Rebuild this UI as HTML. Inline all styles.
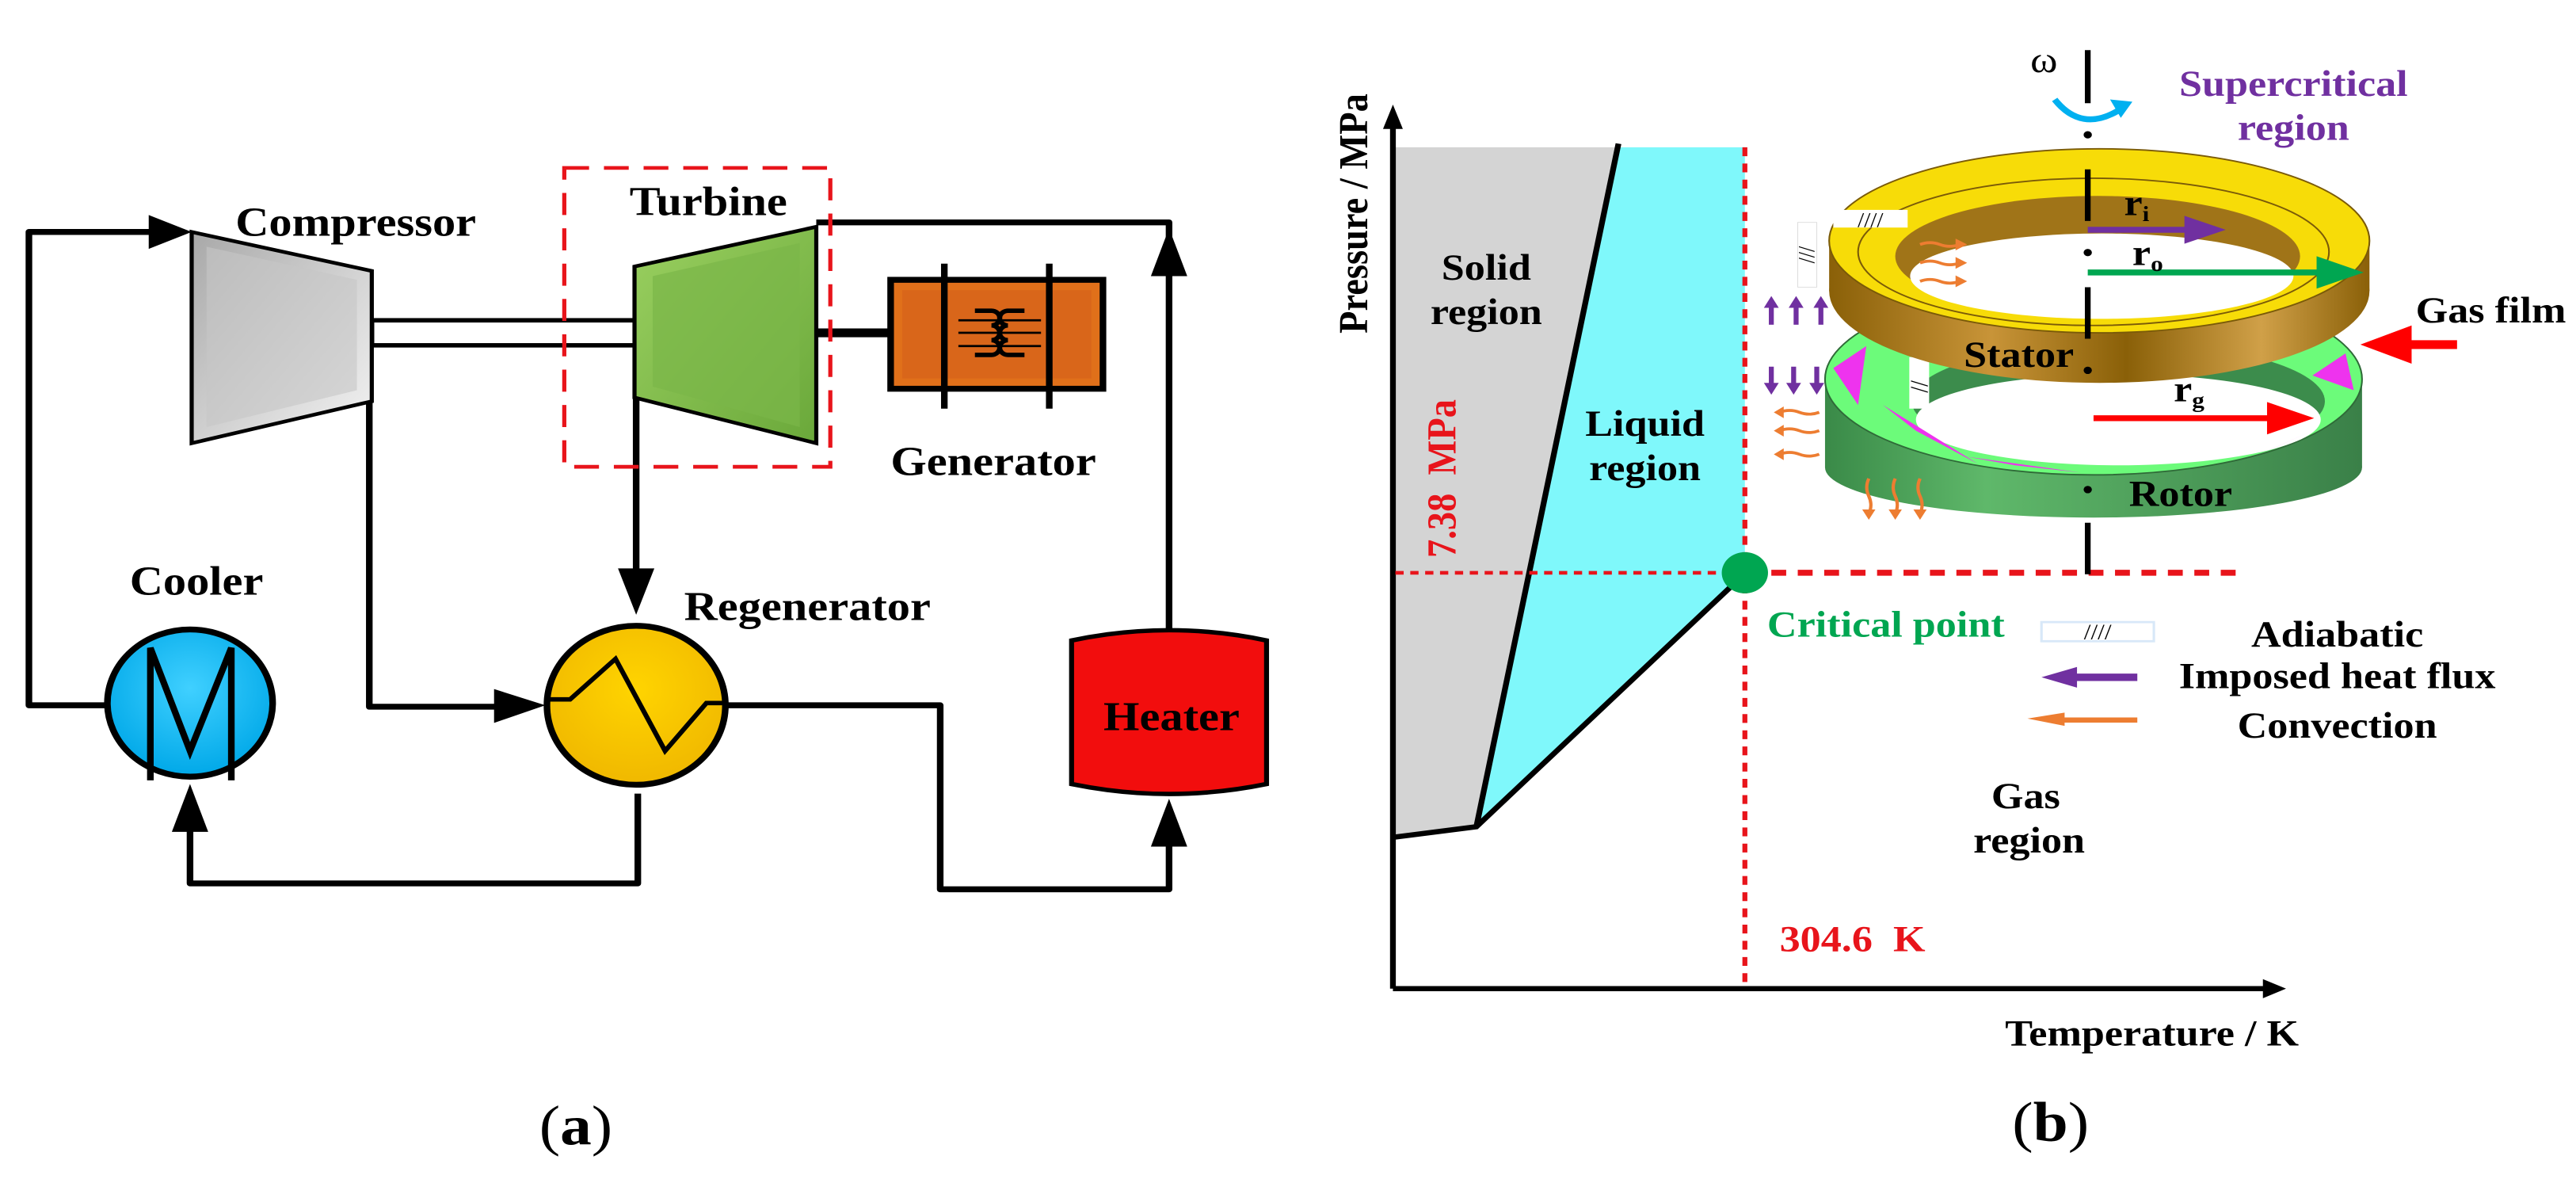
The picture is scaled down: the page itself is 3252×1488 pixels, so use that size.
<!DOCTYPE html>
<html><head><meta charset="utf-8"><style>
html,body{margin:0;padding:0;background:#fff}
svg{display:block}
text{font-family:"Liberation Serif","DejaVu Serif",serif;font-weight:bold}
</style></head><body>
<svg width="3252" height="1488" viewBox="0 0 3252 1488" xmlns="http://www.w3.org/2000/svg" font-family="Liberation Serif, DejaVu Serif, serif">
<defs>
<linearGradient id="gray" x1="0" y1="0" x2="1" y2="1"><stop offset="0" stop-color="#a8a8a8"/><stop offset="0.5" stop-color="#cfcfcf"/><stop offset="1" stop-color="#f4f4f4"/></linearGradient>
<linearGradient id="green" x1="0" y1="0" x2="1" y2="1"><stop offset="0" stop-color="#9ad060"/><stop offset="1" stop-color="#6aa83a"/></linearGradient>
<radialGradient id="blue" cx="0.5" cy="0.4" r="0.6"><stop offset="0" stop-color="#40d0ff"/><stop offset="1" stop-color="#00a8e8"/></radialGradient>
<radialGradient id="yel" cx="0.5" cy="0.4" r="0.6"><stop offset="0" stop-color="#ffd400"/><stop offset="1" stop-color="#f0b800"/></radialGradient>
<linearGradient id="brown" x1="0" y1="0" x2="1" y2="0"><stop offset="0" stop-color="#8a6008"/><stop offset="0.3" stop-color="#c89438"/><stop offset="0.55" stop-color="#8a6008"/><stop offset="0.8" stop-color="#d0a048"/><stop offset="1" stop-color="#8a6008"/></linearGradient>
<linearGradient id="dgreen" x1="0" y1="0" x2="1" y2="0"><stop offset="0" stop-color="#3a8a48"/><stop offset="0.3" stop-color="#5fb86a"/><stop offset="1" stop-color="#3a8048"/></linearGradient>
</defs>

<!-- LEFT PANEL -->
<g transform="translate(0,28) scale(1.043,0.929)">
<g stroke="#000" stroke-width="8" fill="none" stroke-linejoin="round">
<polyline points="130,928 35,928 35,285 185,285"/>
<polyline points="447,515 447,930 600,930"/>
<polyline points="770,510 770,745"/>
<polyline points="988,272 1415,272 1415,825"/>
<polyline points="880,928 1138,928 1138,1178 1415,1178 1415,1118"/>
<polyline points="772,1048 772,1170 230,1170 230,1098"/>
</g>
<g fill="#000">
<polygon points="180,262 232,285 180,308"/>
<polygon points="598,906 660,928 598,952"/>
<polygon points="748,742 792,742 770,805"/>
<polygon points="1393,345 1437,345 1415,280"/>
<polygon points="1393,1120 1437,1120 1415,1055"/>
<polygon points="208,1100 252,1100 230,1035"/>
</g>
<rect x="450" y="405" width="320" height="34" fill="#fff" stroke="#000" stroke-width="6"/>
<line x1="990" y1="422" x2="1080" y2="422" stroke="#000" stroke-width="12"/>
<polygon points="232,285 450,338 450,515 232,572" fill="url(#gray)" stroke="#000" stroke-width="5"/>
<polygon points="250,305 432,350 432,500 250,550" fill="#c6c6c6" opacity="0.6"/>
<polygon points="768,332 988,278 988,572 768,510" fill="url(#green)" stroke="#000" stroke-width="5"/>
<polygon points="790,345 968,300 968,550 790,495" fill="#7ab648" opacity="0.7"/>
<rect x="683" y="198" width="322" height="406" fill="none" stroke="#e8141b" stroke-width="5" stroke-dasharray="30,18"/>
<rect x="1078" y="350" width="257" height="148" fill="#e0701a" stroke="#000" stroke-width="8"/>
<rect x="1092" y="364" width="229" height="120" fill="#d9661a"/>
<line x1="1143" y1="328" x2="1143" y2="525" stroke="#000" stroke-width="8"/>
<line x1="1270" y1="328" x2="1270" y2="525" stroke="#000" stroke-width="8"/>
<g stroke="#000" stroke-width="6" fill="none">
<path d="M1180,392 h20 a10,10 0 0 1 0,20 a10,10 0 0 1 0,20 a10,10 0 0 1 0,20 h-20"/>
<path d="M1240,392 h-20 a10,10 0 0 0 0,20 a10,10 0 0 0 0,20 a10,10 0 0 0 0,20 h20"/>
<path d="M1160,405 h50 M1160,422 h50 M1160,440 h50 M1210,405 h50 M1210,422 h50 M1210,440 h50" stroke-width="3"/>
</g>
<path d="M1297,840 Q1415,812 1533,840 L1533,1035 Q1415,1062 1297,1035 Z" fill="#f20d0d" stroke="#000" stroke-width="6"/>
<circle cx="770" cy="928" r="108" fill="url(#yel)" stroke="#000" stroke-width="8"/>
<polyline points="662,920 690,920 745,865 805,990 855,925 880,925" fill="none" stroke="#000" stroke-width="6"/>
<circle cx="230" cy="925" r="100" fill="url(#blue)" stroke="#000" stroke-width="8"/>
<polyline points="182,1030 182,850 230,990 280,850 280,1030" fill="none" stroke="#000" stroke-width="8"/>
<g font-size="56" fill="#000">
<text x="285" y="290">Compressor</text>
<text x="762" y="262">Turbine</text>
<text x="1078" y="615">Generator</text>
<text x="157" y="778">Cooler</text>
<text x="828" y="812">Regenerator</text>
<text x="1418" y="962" text-anchor="middle">Heater</text>
</g>
<text x="697" y="1525" font-size="76" text-anchor="middle" style="font-weight:normal">(<tspan style="font-weight:bold">a</tspan>)</text>
</g>

<!-- RIGHT PANEL -->
<g transform="translate(1626,28) scale(1.043,0.929)">
<polygon points="130,170 398,170 228,1093 130,1107" fill="#d4d4d4"/>
<polygon points="398,170 553,170 553,748 530,775 228,1093" fill="#7ff8fb"/>
<g stroke="#000" stroke-width="7" fill="none">
<line x1="400" y1="165" x2="228" y2="1093"/>
<polyline points="130,1107 228,1093 535,768"/>
<line x1="127" y1="1313" x2="127" y2="135"/>
<line x1="127" y1="1313" x2="1185" y2="1313"/>
</g>
<polygon points="115,145 139,145 127,112" fill="#000"/>
<polygon points="1180,1300 1180,1326 1208,1313" fill="#000"/>
<line x1="553" y1="170" x2="553" y2="1313" stroke="#e8141b" stroke-width="6" stroke-dasharray="12,10"/>
<line x1="130" y1="748" x2="553" y2="748" stroke="#e8141b" stroke-width="5" stroke-dasharray="10,8"/>
<line x1="553" y1="748" x2="1148" y2="748" stroke="#e8141b" stroke-width="8" stroke-dasharray="18,14"/>
<circle cx="553" cy="748" r="28" fill="#00a651"/>

<g stroke="#000" stroke-width="7">
<line x1="968" y1="38" x2="968" y2="110"/>
<line x1="968" y1="520" x2="968" y2="590"/>
<line x1="968" y1="680" x2="968" y2="750"/>
</g>
<path d="M928,105 Q960,150 1005,120" fill="none" stroke="#00b0f0" stroke-width="8"/>
<polygon points="995,105 1022,108 1008,130" fill="#00b0f0"/>
<!-- rotor -->
<ellipse cx="975" cy="605" rx="325" ry="68" fill="url(#dgreen)"/>
<rect x="650" y="485" width="650" height="120" fill="url(#dgreen)"/>
<ellipse cx="975" cy="485" rx="325" ry="130" fill="#6cfb7a" stroke="#2f6a38" stroke-width="2"/>
<ellipse cx="1005" cy="515" rx="250" ry="80" fill="#3c8c4c"/>
<ellipse cx="1005" cy="540" rx="245" ry="62" fill="#fff"/>
<g fill="#ee33ee">
<path d="M660,470 L700,440 L690,520 Z"/><path d="M720,520 L835,600 L760,555 Z"/>
<path d="M820,590 L960,612 L880,602 Z"/><path d="M1150,600 L1270,540 L1190,580 Z"/>
<path d="M1240,480 L1280,450 L1290,500 Z"/>
</g>
<rect x="752" y="455" width="24" height="70" fill="#fff"/>
<text x="764" y="505" font-size="30" text-anchor="middle" transform="rotate(-90 764 495)" style="font-weight:normal">//</text>
<!-- stator -->
<ellipse cx="982" cy="365" rx="327" ry="125" fill="url(#brown)"/>
<rect x="655" y="297" width="654" height="68" fill="url(#brown)"/>
<ellipse cx="982" cy="297" rx="327" ry="125" fill="#f7dc08" stroke="#7a5a08" stroke-width="2"/>
<ellipse cx="975" cy="312" rx="285" ry="100" fill="none" stroke="#7a5a08" stroke-width="2"/>
<ellipse cx="980" cy="318" rx="245" ry="82" fill="#a07418"/>
<ellipse cx="985" cy="345" rx="232" ry="58" fill="#fff"/>
<g stroke="#000" stroke-width="7">
<line x1="968" y1="200" x2="968" y2="270"/>
<line x1="968" y1="360" x2="968" y2="430"/>
</g>
<g fill="#000"><circle cx="968" cy="153" r="5"/><circle cx="968" cy="313" r="5"/><circle cx="968" cy="473" r="5"/><circle cx="968" cy="635" r="5"/></g>
<line x1="968" y1="282" x2="1090" y2="282" stroke="#7030a0" stroke-width="8"/>
<polygon points="1085,263 1135,282 1085,301" fill="#7030a0"/>
<line x1="968" y1="340" x2="1250" y2="340" stroke="#00a651" stroke-width="8"/>
<polygon points="1245,318 1302,340 1245,362" fill="#00a651"/>
<line x1="975" y1="538" x2="1190" y2="538" stroke="#f00" stroke-width="8"/>
<polygon points="1185,516 1242,538 1185,560" fill="#f00"/>
<line x1="1415" y1="438" x2="1350" y2="438" stroke="#f00" stroke-width="12"/>
<polygon points="1360,412 1298,438 1360,464" fill="#f00"/>
<rect x="660" y="255" width="90" height="24" fill="#fff"/>
<text x="705" y="278" font-size="28" text-anchor="middle" style="font-weight:normal">////</text>
<rect x="617" y="272" width="23" height="88" fill="#fff" stroke="#ddd" stroke-width="1"/>
<text x="628" y="325" font-size="28" text-anchor="middle" transform="rotate(-90 628 316)" style="font-weight:normal">///</text>
<g fill="#7030a0">
<g transform="translate(585,0)"><rect x="-3" y="385" width="6" height="26"/><polygon points="-9,388 9,388 0,372"/></g>
<g transform="translate(615,0)"><rect x="-3" y="385" width="6" height="26"/><polygon points="-9,388 9,388 0,372"/></g>
<g transform="translate(645,0)"><rect x="-3" y="385" width="6" height="26"/><polygon points="-9,388 9,388 0,372"/></g>
<g transform="translate(585,0)"><rect x="-3" y="468" width="6" height="24"/><polygon points="-9,490 9,490 0,506"/></g>
<g transform="translate(612,0)"><rect x="-3" y="468" width="6" height="24"/><polygon points="-9,490 9,490 0,506"/></g>
<g transform="translate(640,0)"><rect x="-3" y="468" width="6" height="24"/><polygon points="-9,490 9,490 0,506"/></g>
</g>
<g stroke="#ed7d31" stroke-width="4" fill="none">
<path d="M765,302 q12,-5 24,0 t24,0"/><path d="M765,327 q12,-5 24,0 t24,0"/><path d="M765,352 q12,-5 24,0 t24,0"/>
<path d="M595,530 q12,-5 24,0 t24,0"/><path d="M595,555 q12,-5 24,0 t24,0"/><path d="M595,587 q12,-5 24,0 t24,0"/>
<path d="M703,620 q-5,12 0,24 t0,24"/><path d="M735,620 q-5,12 0,24 t0,24"/><path d="M765,620 q-5,12 0,24 t0,24"/>
</g>
<g fill="#ed7d31">
<polygon points="808,294 822,302 808,310"/><polygon points="808,319 822,327 808,335"/><polygon points="808,344 822,352 808,360"/>
<polygon points="600,522 588,530 600,538"/><polygon points="600,547 588,555 600,563"/><polygon points="600,579 588,587 600,595"/>
<polygon points="695,662 711,662 703,676"/><polygon points="727,662 743,662 735,676"/><polygon points="757,662 773,662 765,676"/>
</g>
<rect x="912" y="815" width="136" height="26" fill="#fff" stroke="#d8e8f8" stroke-width="3"/>
<text x="980" y="838" font-size="30" text-anchor="middle" style="font-weight:normal">////</text>
<line x1="1028" y1="890" x2="950" y2="890" stroke="#7030a0" stroke-width="10"/>
<polygon points="955,876 912,890 955,904" fill="#7030a0"/>
<line x1="1028" y1="948" x2="935" y2="948" stroke="#ed7d31" stroke-width="7"/>
<polygon points="940,938 895,946 940,956" fill="#ed7d31"/>

<g font-size="50" fill="#000">
<text x="80" y="260" text-anchor="middle" transform="rotate(-90 80 260)" dy="16">Pressure / MPa</text>
<text x="240" y="350" text-anchor="middle">Solid</text>
<text x="240" y="410" text-anchor="middle">region</text>
<text x="432" y="562" text-anchor="middle">Liquid</text>
<text x="432" y="622" text-anchor="middle">region</text>
<text x="893" y="1068" text-anchor="middle">Gas</text>
<text x="897" y="1128" text-anchor="middle">region</text>
<text x="868" y="1390">Temperature / K</text>
<text x="1270" y="848" text-anchor="middle">Adiabatic</text>
<text x="1270" y="905" text-anchor="middle">Imposed heat flux</text>
<text x="1270" y="972" text-anchor="middle">Convection</text>
<text x="818" y="468">Stator</text>
<text x="1018" y="657">Rotor</text>
<text x="1365" y="408">Gas film</text>
<text x="1012" y="262">r<tspan font-size="30" dy="8">i</tspan></text>
<text x="1022" y="330">r<tspan font-size="30" dy="8">o</tspan></text>
<text x="1072" y="515">r<tspan font-size="30" dy="8">g</tspan></text>
<text x="915" y="68" text-anchor="middle" style="font-weight:normal">ω</text>
</g>
<g font-size="50">
<text x="187" y="620" fill="#e8141b" text-anchor="middle" transform="rotate(-90 187 620)" dy="16" xml:space="preserve">7.38  MPa</text>
<text x="580" y="835" fill="#00a651">Critical point</text>
<text x="595" y="1262" fill="#e8141b" xml:space="preserve">304.6  K</text>
<text x="1217" y="100" fill="#7030a0" text-anchor="middle">Supercritical</text>
<text x="1217" y="160" fill="#7030a0" text-anchor="middle">region</text>
</g>
<text x="923" y="1520" font-size="76" text-anchor="middle" style="font-weight:normal">(<tspan style="font-weight:bold">b</tspan>)</text>
</g>
</svg>
</body></html>
